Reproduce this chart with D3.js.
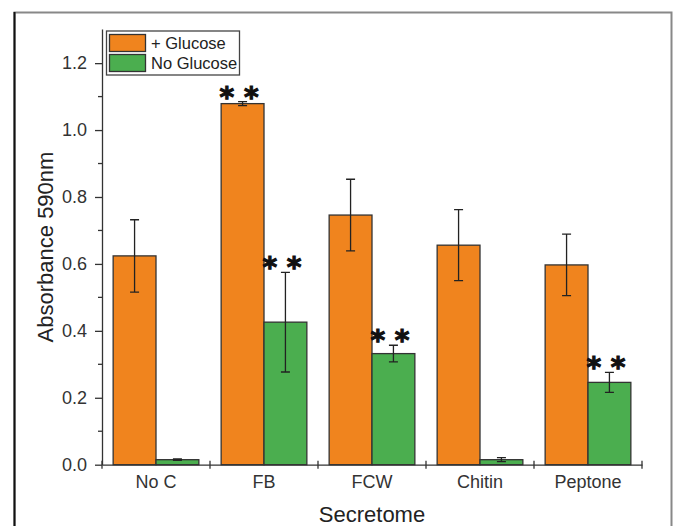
<!DOCTYPE html>
<html lang="en">
<head>
    <meta charset="UTF-8">
    <title>Secretome absorbance</title>
    <script src="https://cdn.jsdelivr.net/npm/d3@7"></script>
</head>
<body>
<svg id="chart"></svg>
</body>

<style>
    body {
        margin: 0;
        background: #fff;
    }

    svg {
        display: block;
    }

    text {
        font-family: "Liberation Sans", Arial, sans-serif;
        fill: #222;
    }

    .axis path,
    .axis line {
        stroke: #333;
        stroke-width: 1.3px;
    }

    .axis text {
        font-size: 18px;
        fill: #333;
    }

    .bar {
        stroke: #333;
        stroke-width: 1.3px;
    }

    .err {
        stroke: #222;
        stroke-width: 1.3px;
        fill: none;
    }

    .star {
        font-family: "DejaVu Sans", sans-serif;
        font-weight: bold;
        font-size: 28px;
        fill: #111;
        stroke: #111;
        stroke-width: 1.1px;
    }
</style>

<script>
    const categories = ['No C', 'FB', 'FCW', 'Chitin', 'Peptone'];
    const series = ['+ Glucose', 'No Glucose'];
    const colors = ['#F0841E', '#4BAE4F'];

    // mean absorbance and error for each series, in category order
    const glucoseValues = [0.624, 1.079, 0.746, 0.656, 0.597];
    const glucoseErrors = [0.108, 0.006, 0.107, 0.106, 0.092];
    const noGlucoseValues = [0.015, 0.426, 0.332, 0.015, 0.246];
    const noGlucoseErrors = [0.002, 0.149, 0.025, 0.006, 0.030];

    // which bars get the "* *" mark
    const glucoseStars = [false, true, false, false, false];
    const noGlucoseStars = [false, true, true, false, true];

    const yTicks = [0, 0.2, 0.4, 0.6, 0.8, 1.0, 1.2];
    const yMinorTicks = [0.1, 0.3, 0.5, 0.7, 0.9, 1.1];

    const width = 673;
    const height = 526;

    const svg = d3.select('#chart')
        .attr('width', width)
        .attr('height', height);

    // figure frame (bottom runs off the page)
    svg.append('path')
        .attr('d', `M14.5,${height + 5} L14.5,12.5 L671.5,12.5 L671.5,${height + 5}`)
        .attr('fill', 'none')
        .attr('stroke', '#888')
        .attr('stroke-width', 2);
    svg.append('line')
        .attr('x1', 14.5).attr('x2', 14.5)
        .attr('y1', 12).attr('y2', height + 5)
        .attr('stroke', '#111')
        .attr('stroke-width', 2);

    const x0 = d3.scaleBand()
        .domain(categories)
        .range([102, 642])
        .paddingInner(0)
        .paddingOuter(0);

    const x1 = d3.scaleBand()
        .domain(series)
        .range([0, x0.bandwidth()])
        .paddingInner(0)
        .paddingOuter(0.26);

    const y = d3.scaleLinear()
        .domain([0, 1.302])
        .range([464.7, 29]);

    const rows = [];
    categories.forEach((c, i) => {
        rows.push({cat: c, s: series[0], color: colors[0], v: glucoseValues[i], e: glucoseErrors[i], star: glucoseStars[i]});
        rows.push({cat: c, s: series[1], color: colors[1], v: noGlucoseValues[i], e: noGlucoseErrors[i], star: noGlucoseStars[i]});
    });

    const bx = d => x0(d.cat) + x1(d.s);
    const cx = d => bx(d) + x1.bandwidth() / 2;

    svg.append('g')
        .selectAll('rect')
        .data(rows)
        .join('rect')
        .attr('class', 'bar')
        .attr('x', bx)
        .attr('width', x1.bandwidth())
        .attr('y', d => y(d.v))
        .attr('height', d => y(0) - y(d.v))
        .attr('fill', d => d.color);

    const capW = 4.5;
    svg.append('g')
        .selectAll('path')
        .data(rows)
        .join('path')
        .attr('class', 'err')
        .attr('d', d => {
            const top = y(d.v + d.e), bot = y(d.v - d.e), c = cx(d);
            return `M${c},${top}V${bot}M${c - capW},${top}H${c + capW}M${c - capW},${bot}H${c + capW}`;
        });

    svg.append('g')
        .selectAll('text')
        .data(rows.filter(d => d.star))
        .join('text')
        .attr('class', 'star')
        .attr('text-anchor', 'middle')
        .attr('x', d => cx(d) - 3.5)
        .attr('y', d => y(d.v + d.e) + 5)
        .text('* *');

    // y axis with minor ticks
    const yAxis = svg.append('g')
        .attr('class', 'axis')
        .attr('transform', 'translate(102,0)')
        .call(d3.axisLeft(y)
            .tickValues(yTicks)
            .tickFormat(d3.format('.1f'))
            .tickSize(7)
            .tickSizeOuter(0)
            .tickPadding(8));
    yAxis.selectAll('.minor')
        .data(yMinorTicks)
        .join('line')
        .attr('class', 'minor')
        .attr('x1', -4).attr('x2', 0)
        .attr('y1', d => y(d)).attr('y2', d => y(d));

    // x axis: labels at category centres, ticks at group boundaries
    const xAxis = svg.append('g')
        .attr('class', 'axis')
        .attr('transform', `translate(0,${y(0)})`)
        .call(d3.axisBottom(x0)
            .tickSize(0)
            .tickSizeOuter(0)
            .tickPadding(11));
    const bounds = categories.map(c => x0(c)).concat([x0.range()[1]]);
    xAxis.selectAll('.bound')
        .data(bounds)
        .join('line')
        .attr('class', 'bound')
        .attr('x1', d => d).attr('x2', d => d)
        .attr('y1', -4).attr('y2', 4);

    svg.append('text')
        .attr('x', 372)
        .attr('y', 522)
        .attr('text-anchor', 'middle')
        .style('font-size', '22px')
        .text('Secretome');

    svg.append('text')
        .attr('transform', 'translate(53,247) rotate(-90)')
        .attr('text-anchor', 'middle')
        .style('font-size', '22px')
        .text('Absorbance 590nm');

    // legend
    const legend = svg.append('g');
    legend.append('rect')
        .attr('x', 106.5).attr('y', 31)
        .attr('width', 133).attr('height', 44)
        .attr('fill', '#fff')
        .attr('stroke', '#444')
        .attr('stroke-width', 1.3);
    series.forEach((s, i) => {
        legend.append('rect')
            .attr('class', 'bar')
            .attr('x', 109.5).attr('y', 34.5 + i * 20)
            .attr('width', 36).attr('height', 17)
            .attr('fill', colors[i]);
        legend.append('text')
            .attr('x', 151)
            .attr('y', 49 + i * 20)
            .style('font-size', '16.5px')
            .text(s);
    });
</script>
</html>
